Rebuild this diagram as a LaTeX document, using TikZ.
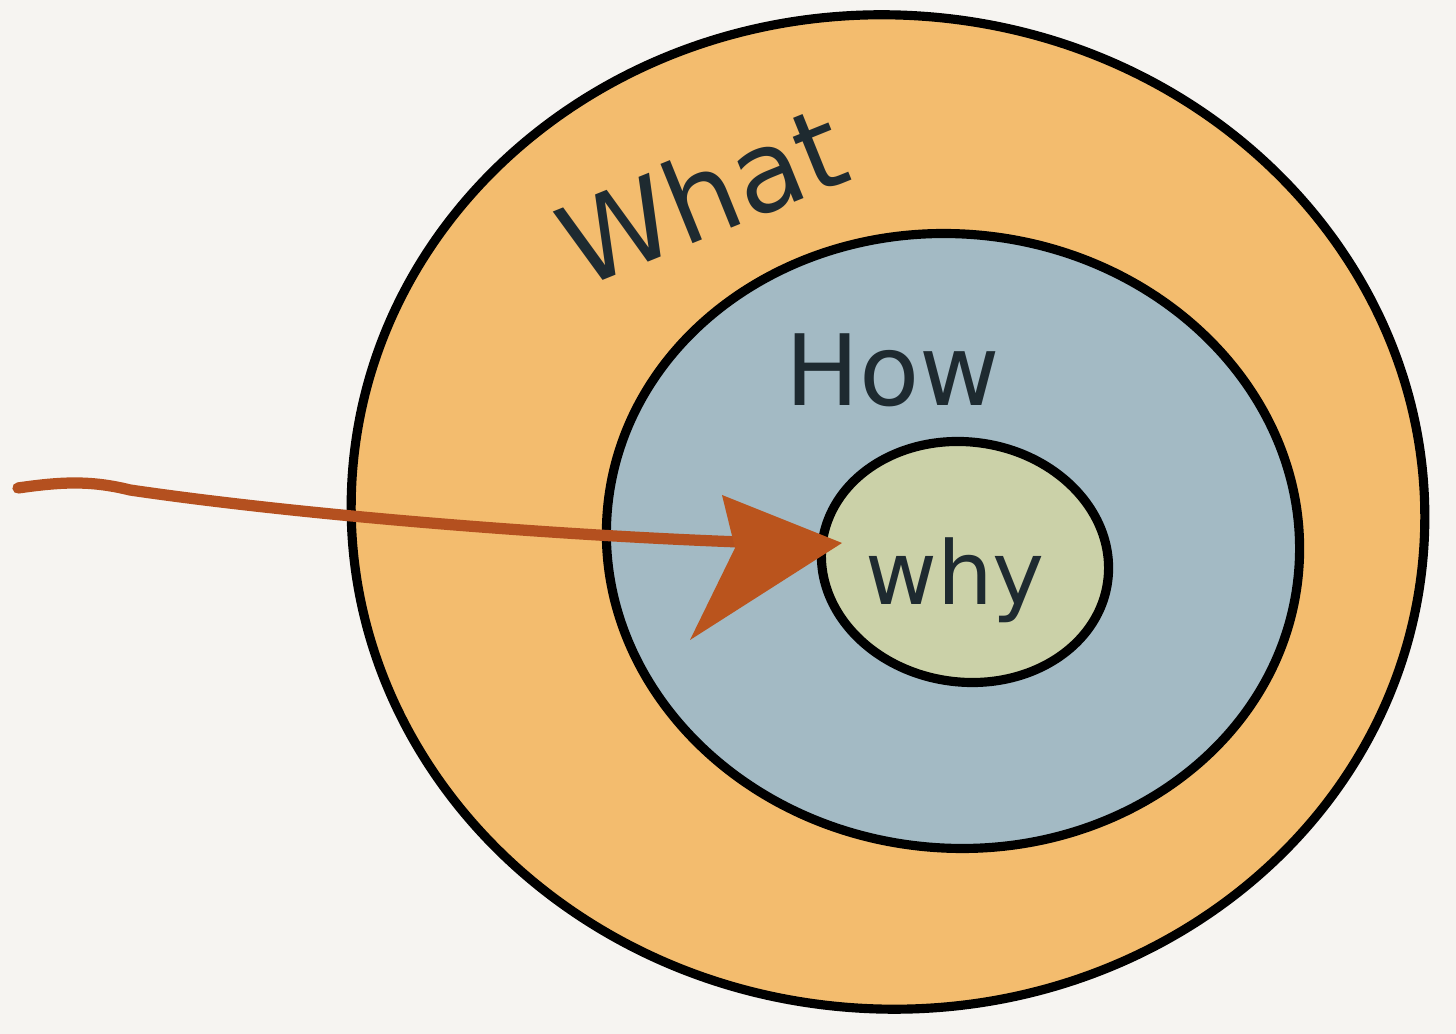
\documentclass[tikz,border=0pt]{standalone}
\usepackage{fontspec}
\setmainfont{DejaVu Sans}
\usetikzlibrary{shapes.geometric}
\definecolor{bg}{HTML}{F6F4F1}
\definecolor{orangefill}{HTML}{F3BC6E}
\definecolor{bluefill}{HTML}{A3BAC4}
\definecolor{greenfill}{HTML}{CBD1A8}
\definecolor{arrowbrown}{HTML}{B4501F}
\definecolor{ink}{HTML}{1E2A30}
\tikzset{
  ring/.style={ellipse, draw=black, inner sep=0pt, line width=2.6pt},
  handtext/.style={text=ink, inner sep=0pt, font=\fontsize{#1}{#1}\selectfont},
}
\begin{document}
\begin{tikzpicture}[x=0.01cm,y=-0.01cm]
\fill[bg] (0,0) rectangle (1456,1034);
\useasboundingbox (0,0) rectangle (1456,1034);
\node[ring, fill=orangefill, minimum width=1074*0.01cm, minimum height=994*0.01cm, rotate=-4] (what) at (888,512) {};
\node[ring, fill=bluefill, minimum width=694*0.01cm, minimum height=614*0.01cm, rotate=-6] (how) at (953,541) {};
\node[ring, fill=greenfill, minimum width=288*0.01cm, minimum height=240*0.01cm, rotate=-8] (why) at (965,562) {};
\node[handtext=32, rotate=22] (twhat) at (702,195) {What};
\node[handtext=28] (thow) at (893,370) {How};
\node[handtext=25] (twhy) at (955,580) {why};
\coordinate (start) at (18,488);
\coordinate (tip) at (842,543);
\draw[arrowbrown, line width=3.2pt, line cap=round] (start) .. controls (60,482) and (90,480) .. (130,490) .. controls (300,515) and (550,535) .. (740,542);
\fill[arrowbrown!92!orange] (tip) -- (722,495) -- (735,548) -- (690,640) -- cycle;
\end{tikzpicture}
\end{document}
